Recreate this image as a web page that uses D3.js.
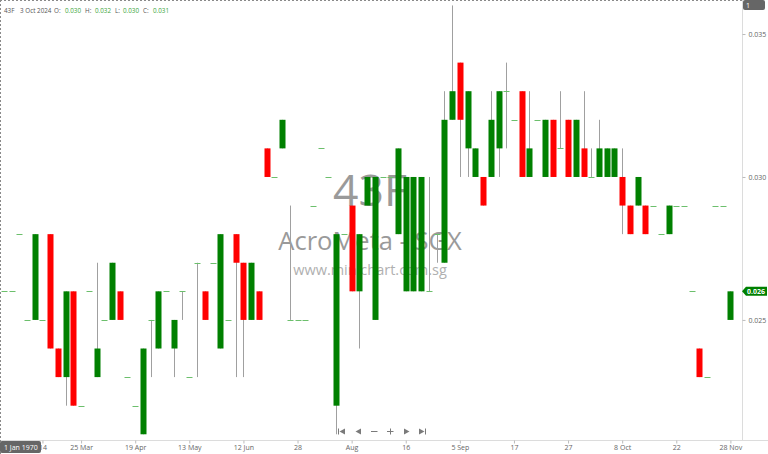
<!DOCTYPE html>
<html><head><meta charset="utf-8">
<script src="https://cdn.jsdelivr.net/npm/d3@7"></script>
<style>
html,body{margin:0;padding:0;background:#fff;}
svg{display:block;}
text{font-family:"Open Sans","Liberation Sans",sans-serif;}
</style></head>
<body>
<svg id="chart" width="768" height="454"></svg>
<script>
// ---- data ----
const open = [0.026,0.026,0.028,0.025,0.025,0.025,0.028,0.024,0.023,0.026,
0.022,0.026,0.023,0.025,0.025,0.026,0.023,0.022,0.021,0.025,
0.024,0.026,0.024,0.026,0.023,0.027,0.026,0.027,0.024,0.025,
0.028,0.027,0.025,0.026,0.031,0.030,0.031,0.025,0.025,0.025,
0.029,0.031,0.030,0.022,0.028,0.029,0.026,0.029,0.025,0.030,
0.030,0.028,0.026,0.026,0.026,0.026,0.028,0.027,0.032,0.034,
0.031,0.030,0.030,0.030,0.031,0.033,0.032,0.033,0.030,0.032,
0.030,0.032,0.031,0.032,0.030,0.031,0.030,0.030,0.030,0.030,
0.030,0.029,0.029,0.029,0.029,0.028,0.028,0.029,0.029,0.026,
0.024,0.023,0.029,0.029,0.025];
const high = [0.026,0.026,0.028,0.025,0.028,0.025,0.028,0.024,0.026,0.026,
0.022,0.026,0.027,0.025,0.027,0.026,0.023,0.022,0.024,0.025,
0.026,0.026,0.025,0.026,0.023,0.027,0.026,0.027,0.028,0.025,
0.028,0.027,0.027,0.026,0.031,0.030,0.032,0.029,0.025,0.025,
0.029,0.031,0.030,0.028,0.028,0.029,0.028,0.030,0.030,0.030,
0.030,0.031,0.030,0.030,0.030,0.030,0.028,0.033,0.036,0.034,
0.033,0.031,0.030,0.033,0.033,0.034,0.032,0.033,0.033,0.032,
0.032,0.032,0.033,0.032,0.032,0.033,0.031,0.032,0.031,0.031,
0.031,0.029,0.030,0.029,0.029,0.028,0.029,0.029,0.029,0.026,
0.024,0.023,0.029,0.029,0.026];
const low = [0.026,0.026,0.028,0.025,0.025,0.025,0.024,0.023,0.022,0.022,
0.022,0.026,0.023,0.025,0.025,0.025,0.023,0.022,0.021,0.023,
0.024,0.026,0.023,0.025,0.023,0.023,0.025,0.027,0.024,0.025,
0.023,0.023,0.025,0.025,0.030,0.030,0.031,0.025,0.025,0.025,
0.029,0.031,0.030,0.021,0.028,0.026,0.024,0.029,0.025,0.030,
0.030,0.028,0.026,0.026,0.026,0.026,0.027,0.027,0.032,0.030,
0.030,0.030,0.029,0.030,0.030,0.031,0.032,0.030,0.030,0.032,
0.030,0.030,0.031,0.030,0.030,0.030,0.030,0.030,0.030,0.030,
0.028,0.028,0.029,0.028,0.029,0.028,0.028,0.029,0.029,0.026,
0.023,0.023,0.029,0.029,0.025];
const close = [0.026,0.026,0.028,0.025,0.028,0.025,0.024,0.023,0.026,0.022,
0.022,0.026,0.024,0.025,0.027,0.025,0.023,0.022,0.024,0.025,
0.026,0.026,0.025,0.026,0.023,0.027,0.025,0.027,0.028,0.025,
0.027,0.025,0.027,0.025,0.030,0.030,0.032,0.025,0.025,0.025,
0.029,0.031,0.030,0.028,0.028,0.026,0.028,0.030,0.030,0.030,
0.030,0.031,0.030,0.030,0.030,0.026,0.028,0.032,0.033,0.032,
0.033,0.031,0.029,0.032,0.033,0.033,0.032,0.030,0.031,0.032,
0.032,0.030,0.031,0.030,0.032,0.030,0.030,0.031,0.031,0.031,
0.029,0.028,0.030,0.028,0.029,0.028,0.029,0.029,0.029,0.026,
0.023,0.023,0.029,0.029,0.026];
const tickBars   = [5, 10, 17, 24, 31, 38, 45, 52, 59, 66, 73, 80, 87, 94];
const tickLabels = ["14","25 Mar","19 Apr","13 May","12 Jun","28","Aug","16","5 Sep","17","27","8 Oct","22","28 Nov"];
const priceTicks = [0.025, 0.030, 0.035];
const header = {code:"43F", date:"3 Oct 2024", O:"0.030", H:"0.032", L:"0.030", C:"0.031"};
const watermark = ["43F", "AcroMeta - SGX", "www.minichart.com.sg"];

// ---- layout ----
const svg = d3.select("#chart");
const W = 768, H = 454, plotR = 742, plotB = 440;
const bars = d3.range(open.length);
const x = d3.scaleLinear().domain([0, open.length - 1]).range([3.8, 730.4]);
const y = d3.scaleLinear().domain([0.0208, 0.03619]).range([plotB, 0]);
const bw = 6;

// watermark
const wm = svg.append("g").attr("text-anchor","middle")
  .style("font-family","'Liberation Sans',Arial,sans-serif");
wm.append("text").attr("x",370).attr("y",206).attr("font-size",44.5).attr("fill","#9a9a9a").text(watermark[0]);
wm.append("text").attr("x",370).attr("y",250).attr("font-size",25.5).attr("fill","#9a9a9a").text(watermark[1]);
wm.append("text").attr("x",370).attr("y",275).attr("font-size",14.5).attr("fill","#b0b0b0").text(watermark[2]);

// axes lines
svg.append("line").attr("x1",0).attr("x2",W).attr("y1",plotB+0.5).attr("y2",plotB+0.5).attr("stroke","#dcdcdc");
svg.append("line").attr("x1",plotR+0.5).attr("x2",plotR+0.5).attr("y1",0).attr("y2",plotB).attr("stroke","#dcdcdc");
// dashed frame
svg.append("line").attr("x1",0).attr("x2",plotR).attr("y1",0.5).attr("y2",0.5).attr("stroke","#8a8a8a").attr("stroke-dasharray","2,2");
svg.append("line").attr("x1",0.5).attr("x2",0.5).attr("y1",0).attr("y2",H).attr("stroke","#8a8a8a").attr("stroke-dasharray","2,2");

// x axis
const xa = svg.append("g").attr("transform",`translate(0,${plotB+0.5})`)
  .call(d3.axisBottom(x).tickValues(tickBars).tickFormat((d,i)=>tickLabels[i]).tickSize(3).tickPadding(2));
xa.select(".domain").remove();
xa.selectAll(".tick line").attr("stroke","#bbb");
xa.selectAll(".tick text").attr("fill","#666").attr("font-size",7).style("font-family","'Open Sans',sans-serif");

// y axis
const ya = svg.append("g").attr("transform",`translate(${plotR+0.5},0)`)
  .call(d3.axisRight(y).tickValues(priceTicks).tickFormat(d3.format(".3f")).tickSize(3).tickPadding(3));
ya.select(".domain").remove();
ya.selectAll(".tick line").attr("stroke","#bbb");
ya.selectAll(".tick text").attr("fill","#666").attr("font-size",7).style("font-family","'Open Sans',sans-serif");

// candles
const g = svg.append("g");
g.selectAll("line.wick").data(bars.filter(i => high[i] > low[i])).join("line")
  .attr("class","wick")
  .attr("x1", i => Math.round(x(i)) + 0.5).attr("x2", i => Math.round(x(i)) + 0.5)
  .attr("y1", i => y(high[i])).attr("y2", i => y(low[i]))
  .attr("stroke","#a0a0a0").attr("stroke-width",1);
g.selectAll("rect.body").data(bars.filter(i => open[i] !== close[i])).join("rect")
  .attr("class","body")
  .attr("x", i => Math.round(x(i)) - bw/2 + 0.5).attr("width", bw)
  .attr("y", i => y(Math.max(open[i], close[i])))
  .attr("height", i => y(Math.min(open[i], close[i])) - y(Math.max(open[i], close[i])))
  .attr("fill", i => close[i] > open[i] ? "#008000" : "#ff0000");
g.selectAll("line.doji").data(bars.filter(i => open[i] === close[i])).join("line")
  .attr("class","doji")
  .attr("x1", i => Math.round(x(i)) - bw/2 + 0.5).attr("x2", i => Math.round(x(i)) + bw/2 + 0.5)
  .attr("y1", i => Math.round(y(close[i])) + 0.5).attr("y2", i => Math.round(y(close[i])) + 0.5)
  .attr("stroke","#6cbf6c").attr("stroke-width",1);

// header
const ht = svg.append("text").attr("x",4).attr("y",12.5).attr("font-size",6.3).attr("fill","#555");
ht.append("tspan").text(header.code);
ht.append("tspan").attr("x",20).text(header.date);
[["O:",header.O,54,65],["H:",header.H,85,95],["L:",header.L,115,123],["C:",header.C,143,153]].forEach(([k,v,px,vx])=>{
  ht.append("tspan").attr("x",px).text(k);
  ht.append("tspan").attr("x",vx).attr("fill","#3aa53a").text(v);
});

// top-right badge
svg.append("rect").attr("x",743).attr("y",0).attr("width",22).attr("height",10).attr("rx",2).attr("fill","#666");
svg.append("text").attr("x",746).attr("y",8).attr("font-size",7).attr("fill","#fff").text("1");

// last price tag
const last = close[close.length-1], ly = y(last);
svg.append("path").attr("d",`M${plotR},${ly} L${plotR+4},${ly-4.5} H767 V${ly+4.5} H${plotR+4} Z`).attr("fill","#008000");
svg.append("text").attr("x",plotR+5).attr("y",ly+2.5).attr("font-size",7).attr("font-weight","bold").attr("fill","#fff").text(d3.format(".3f")(last));

// bottom-left date box
svg.append("rect").attr("x",0).attr("y",441).attr("width",41).attr("height",12).attr("rx",2).attr("fill","#666");
svg.append("text").attr("x",4).attr("y",450).attr("font-size",7).attr("fill","#fff").text("1 Jan 1970");

// navigation controls
const nav = svg.append("g").attr("fill","#7a7a7a").attr("stroke","#7a7a7a");
nav.append("line").attr("x1",338.5).attr("x2",338.5).attr("y1",428.5).attr("y2",434.5);
nav.append("path").attr("stroke","none").attr("d","M345,428.5 V434.5 L339.5,431.5 Z");
nav.append("path").attr("stroke","none").attr("d","M361,428.5 V434.5 L355.5,431.5 Z");
nav.append("line").attr("x1",371).attr("x2",377.5).attr("y1",431.5).attr("y2",431.5);
nav.append("line").attr("x1",387).attr("x2",393.5).attr("y1",431.5).attr("y2",431.5);
nav.append("line").attr("x1",390.5).attr("x2",390.5).attr("y1",428.5).attr("y2",434.5);
nav.append("path").attr("stroke","none").attr("d","M404,428.5 V434.5 L409.5,431.5 Z");
nav.append("path").attr("stroke","none").attr("d","M419,428.5 V434.5 L424.5,431.5 Z");
nav.append("line").attr("x1",425.5).attr("x2",425.5).attr("y1",428.5).attr("y2",434.5);
</script>
</body></html>
